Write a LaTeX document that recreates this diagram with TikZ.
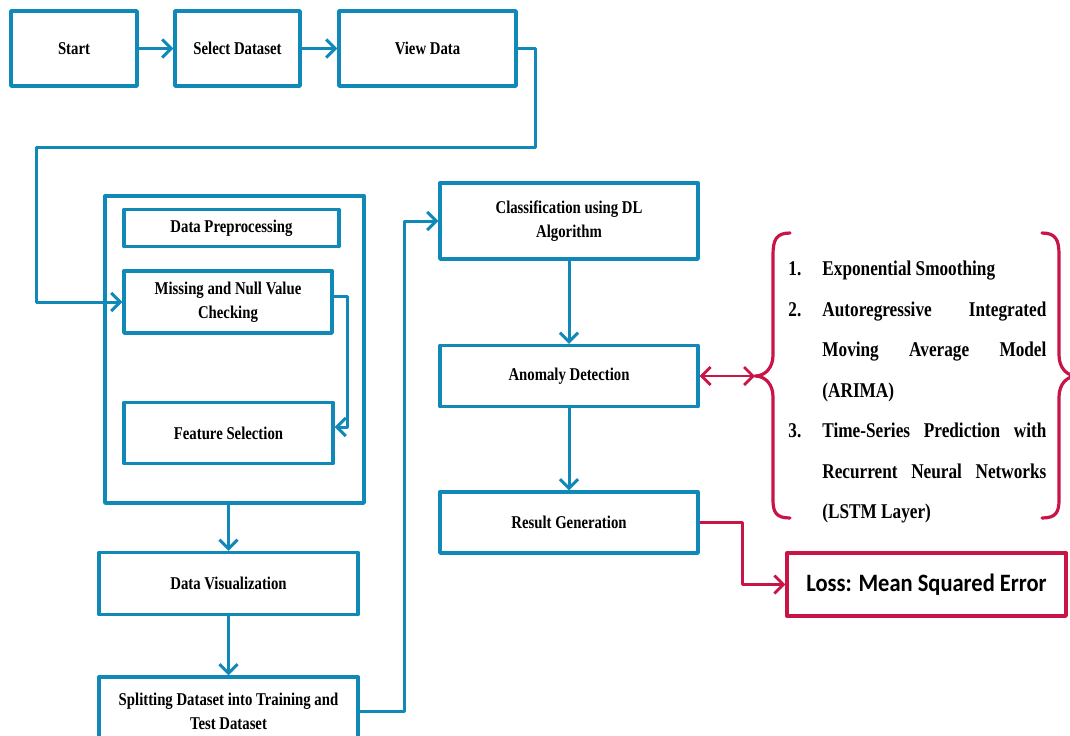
\documentclass[tikz,border=0pt]{standalone}
\usepackage{fontspec}
\setmainfont{Liberation Serif}[FakeStretch=0.82]
\newfontfamily\lossfont{Carlito}[FakeStretch=0.9]
\usetikzlibrary{arrows.meta}
\definecolor{flowblue}{HTML}{1089B9}
\definecolor{flowred}{HTML}{C81446}
\newcommand{\itemno}[1]{\makebox[17pt][l]{#1}}
\newcommand{\jline}[1]{\makebox[112pt][s]{#1}}
\tikzset{
	stage/.style 2 args={draw=flowblue, line width=1.7pt, align=center, inner sep=2pt,
		minimum width=#1*0.5pt, minimum height=#2*0.5pt, font=\fontsize{9}{12}\selectfont\bfseries},
	flow/.style={draw=flowblue, line width=1.5pt, -{Straight Barb[length=4.5pt,width=9pt]}},
	redflow/.style={draw=flowred, line width=1.4pt, -{Straight Barb[length=4.5pt,width=9pt]}},
	brace/.style={draw=flowred, line width=1.6pt, line cap=round},
	methods/.style={anchor=north west, inner sep=0pt, align=left, font=\fontsize{10.5}{20.25}\selectfont\bfseries}
}
\begin{document}
\begin{tikzpicture}[x=0.5pt, y=-0.5pt, line join=round]
	\useasboundingbox (0,0) rectangle (1070,735);
	% top row
	\node[stage={126}{75}] (start) at (74,48.5) {Start};
	\node[stage={125}{75}] (select) at (237.5,48.5) {Select Dataset};
	\node[stage={177}{75}] (view) at (427.5,48.5) {View Data};
	% preprocessing block
	\node[stage={259}{307}] (prep) at (234.5,349.5) {};
	\node[stage={215}{37}] (dprep) at (231.5,228) {Data Preprocessing};
	\node[stage={208}{62}] (miss) at (228,302) {Missing and Null Value\\Checking};
	\node[stage={209}{61}] (feat) at (228.5,433) {Feature Selection};
	\node[stage={259}{62}] (vis) at (228.5,583.5) {Data Visualization};
	\node[stage={259}{68}] (split) at (228.5,711) {Splitting Dataset into Training and\\Test Dataset};
	% model column
	\node[stage={258}{76}] (class) at (569,221) {Classification using DL\\Algorithm};
	\node[stage={258}{61}] (anom) at (569,376) {Anomaly Detection};
	\node[stage={258}{61}] (res) at (569,522.5) {Result Generation};
	\node[stage={279}{63}, draw=flowred, font=\lossfont\fontsize{12.5}{14}\selectfont\bfseries] (loss) at (926.5,584.5) {Loss: Mean Squared Error};
	% methods list
	\node[methods] (meth) at (788,261) {\itemno{1.}Exponential Smoothing\\
		\itemno{2.}\jline{Autoregressive Integrated}\\
		\itemno{}\jline{Moving Average Model}\\
		\itemno{}(ARIMA)\\
		\itemno{3.}\jline{Time-Series Prediction with}\\
		\itemno{}\jline{Recurrent Neural Networks}\\
		\itemno{}(LSTM Layer)};
	\coordinate (tip) at (755,376);
	\draw[brace] (790,233) .. controls (776,233) and (773,240) .. (773,255) -- (773,355)
		.. controls (773,368) and (765,376) .. (tip)
		.. controls (765,376) and (773,384) .. (773,397) -- (773,500)
		.. controls (773,512) and (776,518) .. (790,518);
	\draw[brace] (1042,233) .. controls (1056,233) and (1059,240) .. (1059,255) -- (1059,355)
		.. controls (1059,368) and (1067,376) .. (1077,376)
		.. controls (1067,376) and (1059,384) .. (1059,397) -- (1059,500)
		.. controls (1059,512) and (1056,518) .. (1042,518);
	% connectors
	\draw[flow] (start) -- (select);
	\draw[flow] (select) -- (view);
	\draw[flow] (view.east) -| (535,147) -| (36,302) -- (miss.west);
	\draw[flow] ([yshift=3pt]miss.east) -- ++(14,0) |- ([yshift=3pt]feat.east);
	\draw[flow] (prep.south -| vis.north) -- (vis.north);
	\draw[flow] (vis) -- (split);
	\draw[flow] (split.east) -- ++(45,0) |- (class.west);
	\draw[flow] (class) -- (anom);
	\draw[flow] (anom) -- (res);
	\draw[redflow] (res.east) -- ++(43,0) |- (loss.west);
	\draw[redflow, {Straight Barb[length=4.5pt,width=9pt]}-{Straight Barb[length=4.5pt,width=9pt]}] (anom.east) -- (tip);
\end{tikzpicture}
\end{document}
